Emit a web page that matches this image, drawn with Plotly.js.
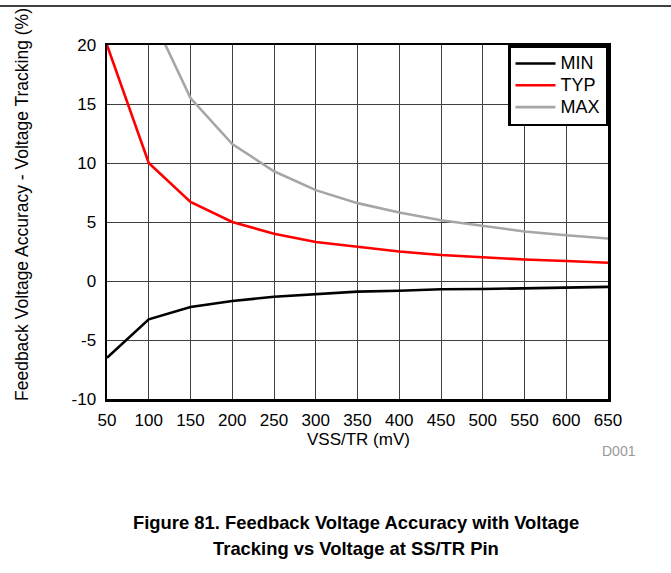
<!DOCTYPE html>
<html>
<head>
<meta charset="utf-8">
<script src="https://cdn.plot.ly/plotly-3.0.1.min.js"></script>
<style>html,body{margin:0;padding:0;background:#fff;}#chart{width:671px;height:573px;}</style>
</head>
<body>
<div id="chart"></div>
<script>
const vss = [50, 100, 150, 200, 250, 300, 350, 400, 450, 500, 550, 600, 650];
const minVals = [-6.5, -3.25, -2.2, -1.7, -1.33, -1.1, -0.9, -0.82, -0.7, -0.68, -0.6, -0.57, -0.5];
const typVals = [20, 10, 6.7, 5.0, 4.0, 3.3, 2.9, 2.5, 2.2, 2.0, 1.82, 1.7, 1.55];
const maxVals = [46, 23, 15.5, 11.6, 9.3, 7.7, 6.6, 5.8, 5.15, 4.65, 4.2, 3.88, 3.6];
const seriesNames = ['MIN', 'TYP', 'MAX'];
const xTicks = [50, 100, 150, 200, 250, 300, 350, 400, 450, 500, 550, 600, 650];
const yTicks = [-10, -5, 0, 5, 10, 15, 20];

const FONT = 'Arial, "Liberation Sans", sans-serif';
const L = 107, R = 608, T = 45, B = 399, W = 671, H = 573;
const pw = R - L, ph = B - T;
const px = x => (x - L) / pw;
const py = y => (B - y) / ph;
const big = s => '<span style="font-size:18px">' + s + '</span>';

const traces = [
  {x: vss, y: minVals, name: big(seriesNames[0]), mode: 'lines', line: {color: '#000000', width: 2.6}},
  {x: vss, y: typVals, name: big(seriesNames[1]), mode: 'lines', line: {color: '#ff0000', width: 2.6}},
  {x: vss, y: maxVals, name: big(seriesNames[2]), mode: 'lines', line: {color: '#a6a6a6', width: 2.6}}
];

const layout = {
  width: W, height: H,
  margin: {l: L, r: W - R, t: T, b: H - B, pad: 0},
  paper_bgcolor: '#ffffff', plot_bgcolor: '#ffffff',
  font: {family: FONT, size: 17, color: '#000'},
  showlegend: true,
  legend: {
    x: 1, y: 1, xanchor: 'right', yanchor: 'top',
    bordercolor: '#000', borderwidth: 2.5, bgcolor: '#fff',
    font: {family: FONT, size: 14.5, color: '#000'},
    itemwidth: 40, tracegroupgap: 0
  },
  xaxis: {
    range: [50, 650], tickvals: xTicks, ticktext: xTicks.map(String),
    showgrid: true, gridcolor: '#404040', gridwidth: 1,
    showline: true, linecolor: '#000', linewidth: 2.5, mirror: true,
    ticks: '', zeroline: false, ticklabelstandoff: 4,
    tickfont: {family: FONT, size: 17, color: '#000'}
  },
  yaxis: {
    range: [-10, 20], tickvals: yTicks, ticktext: yTicks.map(String),
    showgrid: true, gridcolor: '#404040', gridwidth: 1,
    showline: true, linecolor: '#000', linewidth: 2.5, mirror: true,
    ticks: '', zeroline: false, ticklabelstandoff: 5,
    tickfont: {family: FONT, size: 17, color: '#000'}
  },
  shapes: [
    {type: 'line', xref: 'paper', yref: 'paper', x0: px(0), x1: px(W), y0: py(6), y1: py(6),
     line: {color: '#000', width: 1.5}}
  ],
  annotations: [
    {text: 'Feedback Voltage Accuracy - Voltage Tracking (%)', xref: 'paper', yref: 'paper',
     x: px(22), y: py(205), textangle: -90, showarrow: false, xanchor: 'center', yanchor: 'middle',
     font: {family: FONT, size: 17.5, color: '#000'}},
    {text: 'VSS/TR (mV)', xref: 'paper', yref: 'paper', x: px(358), y: py(439),
     showarrow: false, xanchor: 'center', yanchor: 'middle', font: {family: FONT, size: 17, color: '#000'}},
    {text: 'D001', xref: 'paper', yref: 'paper', x: px(619), y: py(451),
     showarrow: false, xanchor: 'center', yanchor: 'middle', font: {family: FONT, size: 14, color: '#999999'}},
    {text: '<b>Figure 81. Feedback Voltage Accuracy with Voltage</b>', xref: 'paper', yref: 'paper',
     x: px(356), y: py(522), showarrow: false, xanchor: 'center', yanchor: 'middle',
     font: {family: FONT, size: 18.4, color: '#000'}},
    {text: '<b>Tracking vs Voltage at SS/TR Pin</b>', xref: 'paper', yref: 'paper',
     x: px(356), y: py(548), showarrow: false, xanchor: 'center', yanchor: 'middle',
     font: {family: FONT, size: 18.4, color: '#000'}}
  ]
};

Plotly.newPlot('chart', traces, layout, {displayModeBar: false, staticPlot: true});
</script>
</body>
</html>
